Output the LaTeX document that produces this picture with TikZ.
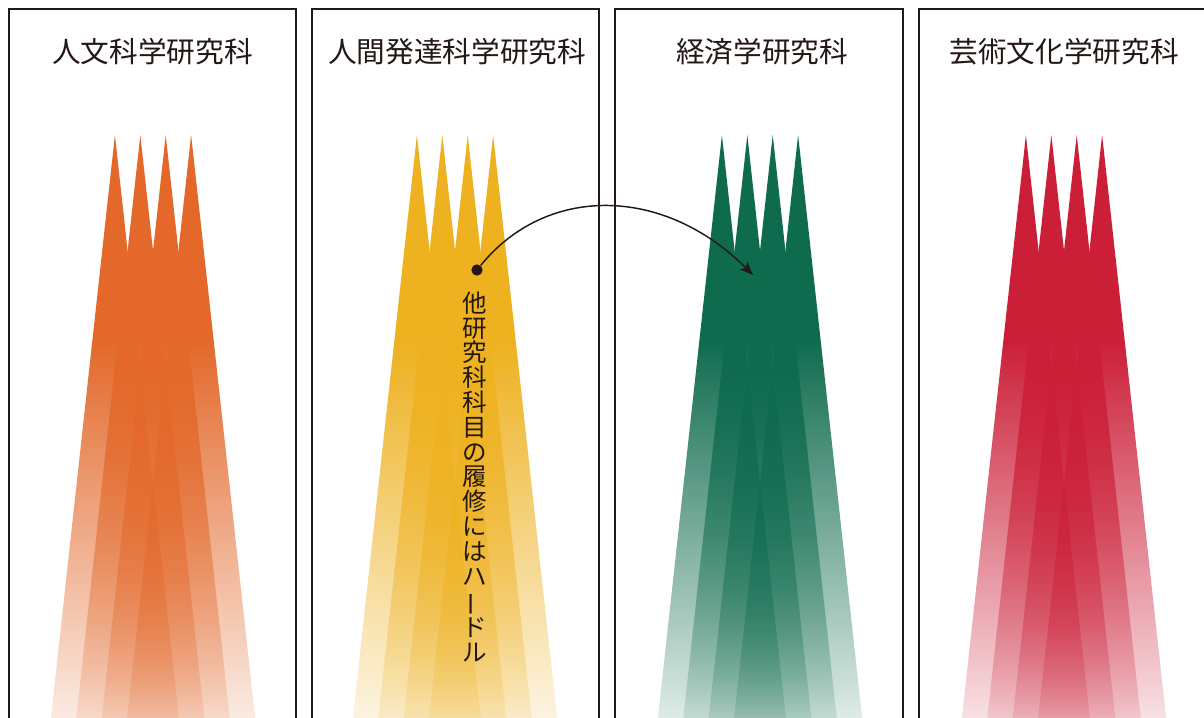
\documentclass[tikz,border=0pt]{standalone}
\usepackage{fontspec}
\usepackage{graphicx}
\newfontfamily\cjk{Noto Sans CJK JP}
\usetikzlibrary{arrows.meta,fadings}
\definecolor{inkc}{HTML}{231815}
\definecolor{cOrange}{HTML}{E3682A}
\definecolor{cYellow}{HTML}{EEB11F}
\definecolor{cGreen}{HTML}{0F6B4E}
\definecolor{cRed}{HTML}{CB1E37}
\pgfdeclareverticalshading{spikeshade}{100bp}{color(0bp)=(black!87); color(25bp)=(black!87); color(57.5bp)=(white); color(100bp)=(white)}
\pgfdeclarefading{spikefade}{\pgfuseshading{spikeshade}}
\newcommand\spikegroup[2]{%
  \foreach \i in {0,...,3}{%
    \fill[#2, path fading=spikefade] ({#1+(\i-1.5)*25.4},135) -- ({#1+(\i-1.5)*25.4+64},718) -- ({#1+(\i-1.5)*25.4-64},718) -- cycle;}}
\tikzset{
  panelframe/.style={draw=inkc, line width=1.5pt},
  titletext/.style={font=\cjk\fontsize{21.5}{24}\selectfont, text=inkc, anchor=base, inner sep=0pt},
  vtext/.style={font=\cjk\fontsize{18.4}{18.6}\selectfont, text=inkc, align=center, inner sep=0pt},
  hopdot/.style={circle, fill=inkc, inner sep=0pt, minimum size=8.5pt},
  hoparrow/.style={draw=inkc, line width=1.1pt, -{Stealth[length=10pt,width=8pt,inset=2.5pt]}}
}
\begin{document}
\begin{tikzpicture}[x=0.75pt,y=-0.75pt]
\clip (0,0) rectangle (1204,718);
\fill[white] (0,0) rectangle (1204,718);
% spikes
\spikegroup{153}{cOrange}
\spikegroup{455}{cYellow}
\spikegroup{760}{cGreen}
\spikegroup{1064}{cRed}
% panels
\draw[panelframe] (9,730) -- (9,9) -- (296,9) -- (296,730);
\draw[panelframe] (312,730) -- (312,9) -- (599,9) -- (599,730);
\draw[panelframe] (615,730) -- (615,9) -- (903,9) -- (903,730);
\draw[panelframe] (919,730) -- (919,9) -- (1206,9) -- (1206,730);
% titles
\node[titletext] (t1) at (152.5,62.5) {人文科学研究科};
\node[titletext] (t2) at (457,62.5) {人間発達科学研究科};
\node[titletext] (t3) at (762,62.5) {経済学研究科};
\node[titletext] (t4) at (1064,62.5) {芸術文化学研究科};
% vertical text
\node[vtext] (note) at (475,477) {他\\研\\究\\科\\科\\目\\の\\履\\修\\に\\は\\ハ\\\rotatebox[origin=c]{90}{ー}\\ド\\ル};
% arrow
\node[hopdot] (src) at (477,270) {};
\coordinate (dst) at (753,275);
\draw[hoparrow] (src) .. controls (546,185) and (663,185) .. (dst);
\end{tikzpicture}
\end{document}
